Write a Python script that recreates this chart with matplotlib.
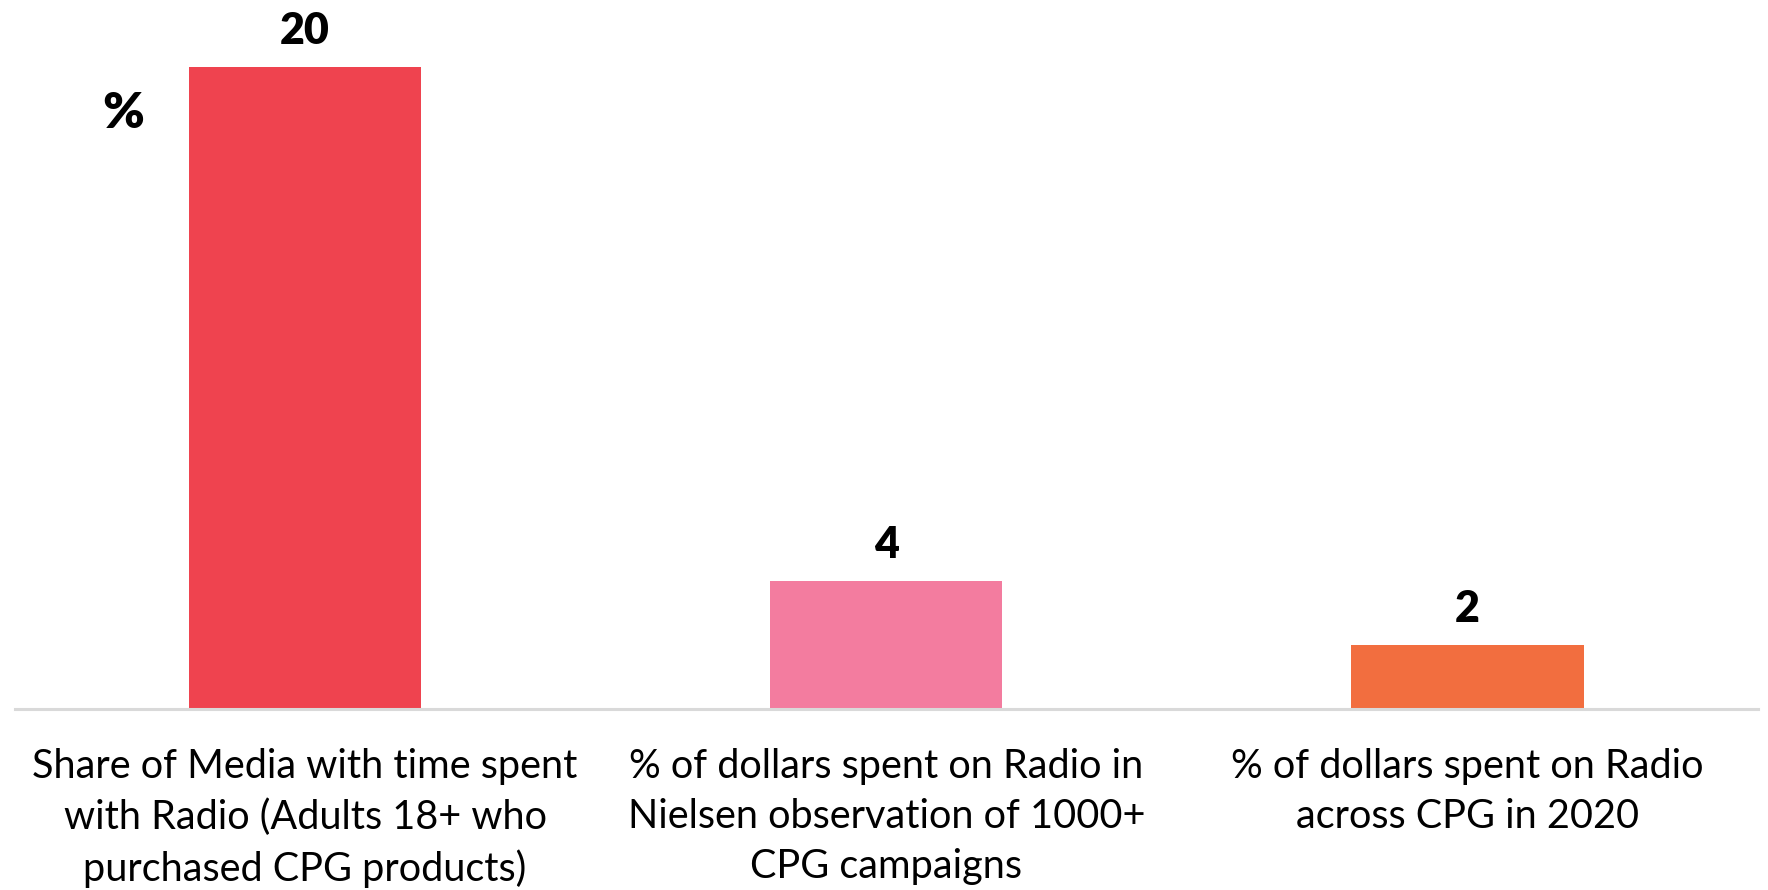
import matplotlib
matplotlib.use("Agg")
import matplotlib.pyplot as plt

categories = [
    "Share of Media with time spent\nwith Radio (Adults 18+ who\npurchased CPG products)",
    "% of dollars spent on Radio in\nNielsen observation of 1000+\nCPG campaigns",
    "% of dollars spent on Radio\nacross CPG in 2020",
]
values = [20, 4, 2]
colors = ["#EF434F", "#F37C9F", "#F26E3F"]

plt.rcParams['font.family'] = ['Lato', 'DejaVu Sans']

W, H = 1768, 890
fig = plt.figure(figsize=(W / 100, H / 100), dpi=100)
# axes placed by pixel: baseline at y=709, left 14.5, right 1758
ax = fig.add_axes([14.5 / W, (H - 709) / H, (1758 - 14.5) / W, (709 - 3) / H])

x = range(len(values))
ax.bar(x, values, width=0.4, color=colors, zorder=2)
ax.set_xlim(-0.5, 2.5)
ax.set_ylim(0, 22)

for i, v in enumerate(values):
    ax.text(i, v + 0.5, str(v), ha="center", va="bottom",
            fontsize=31, fontweight="heavy", color="black")

for s in ["top", "right", "left"]:
    ax.spines[s].set_visible(False)
ax.spines["bottom"].set_color("#D9D9D9")
ax.spines["bottom"].set_linewidth(2.2)
ax.set_yticks([])
ax.set_xticks(list(x))
ax.set_xticklabels(categories, fontsize=28.5, linespacing=1.43)
ax.tick_params(axis="x", length=0, pad=28)

fig.text(123 / W, 1 - 113 / H, "%", ha="center", va="center",
         fontsize=36, fontweight="heavy")

fig.savefig("out.png", dpi=100)
